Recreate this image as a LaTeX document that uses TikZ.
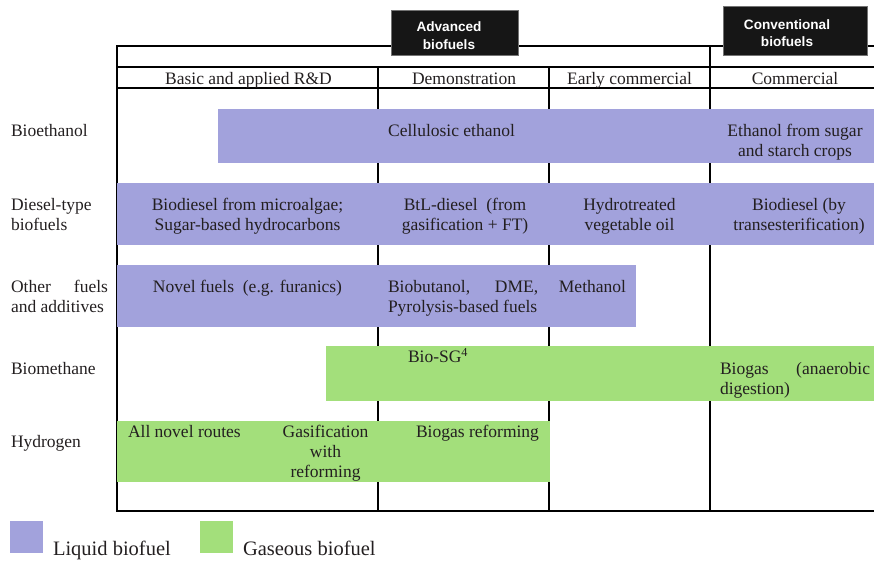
\documentclass[tikz,border=0pt]{standalone}
\usepackage{fontspec}
\setmainfont{Liberation Serif}
\newfontfamily\labelsans{Liberation Sans}
\definecolor{liquid}{HTML}{A2A2DC}
\definecolor{gas}{HTML}{A3DF7B}
\definecolor{ink}{HTML}{231F20}
\definecolor{boxfill}{HTML}{161616}
\begin{document}
\begin{tikzpicture}[x=1pt,y=-1pt,
  every node/.style={inner sep=0pt, outer sep=0pt},
  txt/.style={font=\fontsize{17.5}{20}\selectfont, text=ink, align=center, anchor=base},
  lefttxt/.style={font=\fontsize{17.5}{20}\selectfont, text=ink, align=left, anchor=base west},
  lbl/.style={fill=boxfill, draw=black!55, line width=0.9pt},
  lbltxt/.style={font=\labelsans\bfseries\fontsize{13.6}{17.5}\selectfont, text=white, align=center, anchor=base},
  gridline/.style={line width=1.2pt, draw=black},
  liquidbar/.style={fill=liquid},
  gasbar/.style={fill=gas},
  legtxt/.style={font=\fontsize{20.5}{24}\selectfont, text=ink, anchor=base west}]
\useasboundingbox (0,0) rectangle (874,561);

% table grid
\draw[gridline] (874,46) -- (117,46) -- (117,511) -- (874,511);
\draw[gridline] (117,67) -- (874,67);
\draw[gridline] (117,88) -- (874,88);
\draw[gridline] (378,67) -- (378,511);
\draw[gridline] (549,67) -- (549,511);
\draw[gridline] (710,46) -- (710,511);

% category boxes (base = last line)
\filldraw[lbl] (391,10) rectangle (518,55);
\filldraw[lbl] (723,6) rectangle (867,55);
\node[lbltxt] (adv) at (449,49.5) {Advanced\\biofuels};
\node[lbltxt] (conv) at (787,47) {Conventional\\biofuels};

% column headers
\node[txt] (h1) at (248.5,84.5) {Basic and applied R\&D};
\node[txt] (h2) at (464,84.5) {Demonstration};
\node[txt] (h3) at (629.5,84.5) {Early commercial};
\node[txt] (h4) at (795,84.5) {Commercial};

% bars
\fill[liquidbar] (218,109) rectangle (874,163);
\fill[liquidbar] (117,183) rectangle (874,245);
\fill[liquidbar] (117,265) rectangle (636,327);
\fill[gasbar] (326,346) rectangle (874,401);
\fill[gasbar] (117,421) rectangle (550,482);

% row labels
\node[lefttxt] (r1) at (11,137) {Bioethanol};
\node[lefttxt] (r2) at (11,230) {Diesel-type\\biofuels};
\node[lefttxt, text width=97pt, align=justify] (r3) at (11,292) {Other fuels\linebreak and additives};
\node[lefttxt] (r4) at (11,374) {Biomethane};
\node[lefttxt] (r5) at (11,447.5) {Hydrogen};

% bioethanol
\node[txt] (b1) at (451.5,137) {Cellulosic ethanol};
\node[txt] (b2) at (795,156.5) {Ethanol from sugar\\and starch crops};

% diesel
\node[txt] (d1) at (247.5,230) {Biodiesel from microalgae;\\Sugar-based hydrocarbons};
\node[txt] (d2) at (465,230) {BtL-diesel\ \ (from\\gasification + FT)};
\node[txt] (d3) at (629.5,230) {Hydrotreated\\vegetable oil};
\node[txt] (d4) at (799,230) {Biodiesel (by\\transesterification)};

% other fuels
\node[txt] (o1) at (247.5,292) {Novel fuels\ \ (e.g. furanics)};
\node[lefttxt, text width=238pt, align=justify] (o2) at (388,292) {Biobutanol, DME, Methanol\linebreak Pyrolysis-based fuels};

% biomethane
\node[lefttxt] (m1) at (408,362.5) {Bio-SG\textsuperscript{4}};
\node[lefttxt, text width=150pt, align=justify] (m2) at (720,374) {Biogas (anaerobic\linebreak digestion)};

% hydrogen
\node[lefttxt] (y1) at (128,437) {All novel routes};
\node[txt] (y2) at (325.5,477) {Gasification\\with\\reforming};
\node[txt] (y3) at (477.5,437) {Biogas reforming};

% legend
\fill[liquidbar] (10,521) rectangle (43,553);
\fill[gasbar] (200,521) rectangle (233,553);
\node[legtxt] (l1) at (53,555.5) {Liquid biofuel};
\node[legtxt] (l2) at (243,555.5) {Gaseous biofuel};
\end{tikzpicture}
\end{document}
